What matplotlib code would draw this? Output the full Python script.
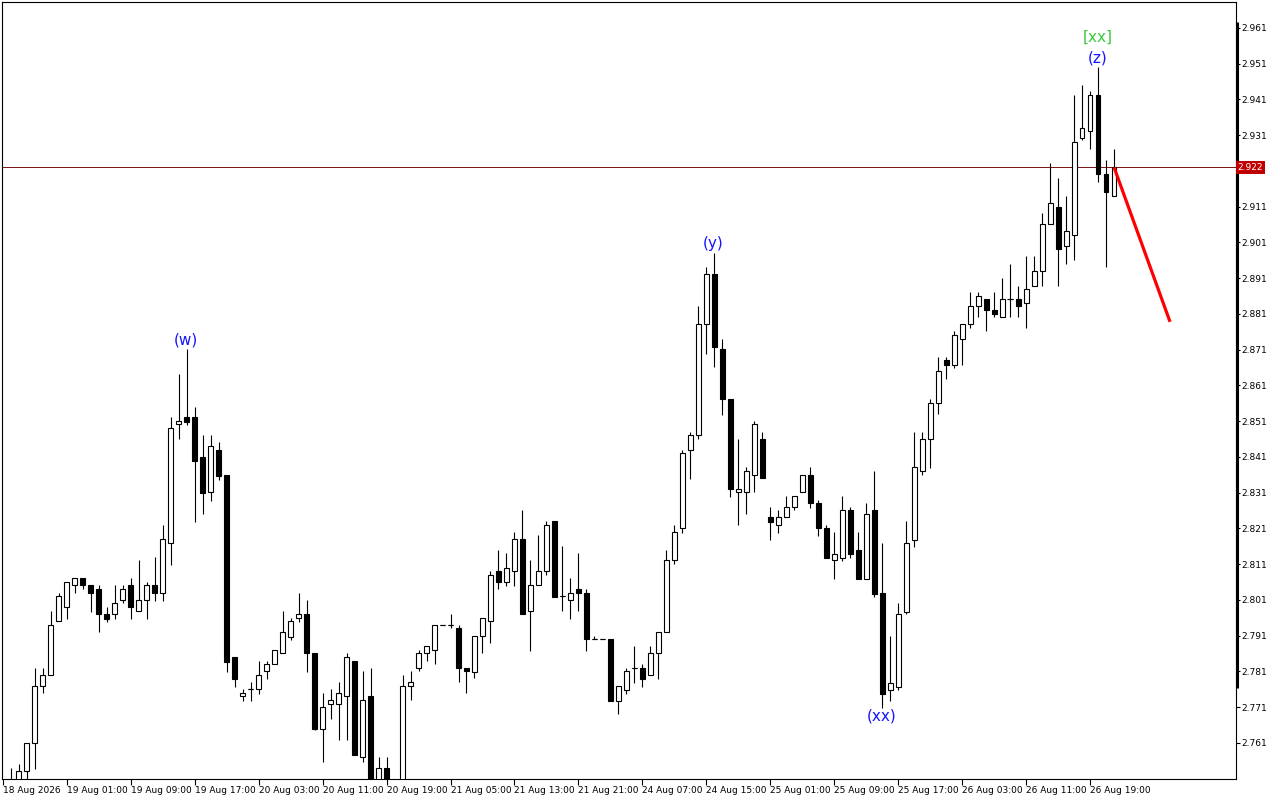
import numpy as np
import matplotlib
matplotlib.use("Agg")
import matplotlib.pyplot as plt
import matplotlib.transforms as mtransforms

# hourly candles (price)
opens = [
    2.7470, 2.7480, 2.7490, 2.7532, 2.7610, 2.7769, 2.7800, 2.7951, 2.7990, 2.8052,
    2.8072, 2.8052, 2.8041, 2.7971, 2.7971, 2.8010, 2.8052, 2.7979, 2.8010, 2.8052,
    2.8030, 2.8169, 2.8502, 2.8522, 2.8522, 2.8410, 2.8312, 2.8430, 2.8360, 2.7851,
    2.7741, 2.7761, 2.7761, 2.7811, 2.7831, 2.7862, 2.7906, 2.7959, 2.7971, 2.7862,
    2.7649, 2.7719, 2.7719, 2.7741, 2.7839, 2.7571, 2.7741, 2.7490, 2.7540, 2.7470,
    2.7490, 2.7769, 2.7820, 2.7862, 2.7870, 2.7940, 2.7940, 2.7932, 2.7820, 2.7809,
    2.7909, 2.7951, 2.8091, 2.8060, 2.8091, 2.8181, 2.7979, 2.8052, 2.8091, 2.8231,
    2.8021, 2.8010, 2.8041, 2.8030, 2.7901, 2.7901, 2.7901, 2.7728, 2.7758, 2.7820,
    2.7820, 2.7800, 2.7862, 2.7921, 2.8122, 2.8211, 2.8430, 2.8472, 2.8782, 2.8922,
    2.8712, 2.8572, 2.8312, 2.8312, 2.8360, 2.8460, 2.8242, 2.8220, 2.8242, 2.8270,
    2.8312, 2.8360, 2.8281, 2.8211, 2.8122, 2.8128, 2.8262, 2.8150, 2.8069, 2.8262,
    2.8030, 2.7758, 2.7767, 2.7976, 2.8178, 2.8371, 2.8460, 2.8561, 2.8681, 2.8667,
    2.8740, 2.8782, 2.8832, 2.8852, 2.8821, 2.8802, 2.8852, 2.8852, 2.8841, 2.8888,
    2.8930, 2.9062, 2.9109, 2.9000, 2.9031, 2.9302, 2.9322, 2.9423, 2.9202, 2.9140,
]
highs = [
    2.7505, 2.7540, 2.7551, 2.7610, 2.7820, 2.7820, 2.7979, 2.8030, 2.8060, 2.8072,
    2.8072, 2.8052, 2.8052, 2.7990, 2.8052, 2.8052, 2.8072, 2.8122, 2.8060, 2.8130,
    2.8220, 2.8522, 2.8642, 2.8712, 2.8550, 2.8472, 2.8472, 2.8452, 2.8360, 2.7851,
    2.7761, 2.7781, 2.7839, 2.7839, 2.7870, 2.7979, 2.7959, 2.8030, 2.8010, 2.7862,
    2.7750, 2.7761, 2.7781, 2.7862, 2.7839, 2.7811, 2.7820, 2.7571, 2.7571, 2.7500,
    2.7800, 2.7811, 2.7870, 2.7881, 2.7940, 2.7940, 2.7971, 2.7940, 2.7820, 2.7909,
    2.7959, 2.8091, 2.8150, 2.8141, 2.8200, 2.8262, 2.8122, 2.8192, 2.8231, 2.8231,
    2.8161, 2.8072, 2.8141, 2.8041, 2.7909, 2.7901, 2.7901, 2.7769, 2.7820, 2.7881,
    2.7831, 2.7881, 2.7921, 2.8150, 2.8220, 2.8430, 2.8480, 2.8832, 2.8941, 2.8981,
    2.8740, 2.8572, 2.8460, 2.8382, 2.8511, 2.8480, 2.8270, 2.8262, 2.8301, 2.8301,
    2.8360, 2.8382, 2.8290, 2.8220, 2.8200, 2.8301, 2.8270, 2.8200, 2.8281, 2.8371,
    2.8169, 2.7909, 2.8002, 2.8231, 2.8480, 2.8480, 2.8572, 2.8690, 2.8690, 2.8762,
    2.8782, 2.8872, 2.8872, 2.8852, 2.8872, 2.8911, 2.8950, 2.8888, 2.8972, 2.8972,
    2.9093, 2.9232, 2.9190, 2.9140, 2.9423, 2.9451, 2.9434, 2.9501, 2.9241, 2.9272,
]
lows = [
    2.7440, 2.7460, 2.7470, 2.7500, 2.7537, 2.7750, 2.7800, 2.7951, 2.7957, 2.8030,
    2.8041, 2.7976, 2.7921, 2.7948, 2.7957, 2.8002, 2.7957, 2.7979, 2.7957, 2.8007,
    2.8007, 2.8108, 2.8460, 2.8500, 2.8228, 2.8251, 2.8287, 2.8346, 2.7809, 2.7767,
    2.7728, 2.7728, 2.7748, 2.7789, 2.7831, 2.7862, 2.7898, 2.7948, 2.7809, 2.7646,
    2.7557, 2.7677, 2.7618, 2.7618, 2.7576, 2.7557, 2.7460, 2.7470, 2.7480, 2.7440,
    2.7470, 2.7730, 2.7811, 2.7839, 2.7831, 2.7940, 2.7932, 2.7781, 2.7750, 2.7792,
    2.7862, 2.7890, 2.8041, 2.8049, 2.8049, 2.7971, 2.7867, 2.8052, 2.8080, 2.8018,
    2.7979, 2.7957, 2.7979, 2.7867, 2.7901, 2.7901, 2.7728, 2.7691, 2.7748, 2.7778,
    2.7767, 2.7800, 2.7789, 2.7921, 2.8111, 2.8197, 2.8348, 2.8460, 2.8698, 2.8662,
    2.8527, 2.8298, 2.8220, 2.8251, 2.8312, 2.8351, 2.8178, 2.8197, 2.8242, 2.8262,
    2.8312, 2.8267, 2.8189, 2.8128, 2.8069, 2.8119, 2.8128, 2.8069, 2.8069, 2.8018,
    2.7708, 2.7728, 2.7758, 2.7971, 2.8158, 2.8360, 2.8379, 2.8530, 2.8628, 2.8659,
    2.8667, 2.8771, 2.8802, 2.8762, 2.8802, 2.8802, 2.8802, 2.8802, 2.8771, 2.8888,
    2.8888, 2.9062, 2.8888, 2.8950, 2.8961, 2.9297, 2.9272, 2.9179, 2.8941, 2.9140,
]
closes = [
    2.7490, 2.7500, 2.7532, 2.7610, 2.7769, 2.7800, 2.7940, 2.8021, 2.8060, 2.8072,
    2.8052, 2.8030, 2.7971, 2.7957, 2.8002, 2.8041, 2.7990, 2.8010, 2.8052, 2.8030,
    2.8181, 2.8491, 2.8511, 2.8508, 2.8399, 2.8309, 2.8441, 2.8357, 2.7837, 2.7789,
    2.7750, 2.7761, 2.7800, 2.7831, 2.7870, 2.7921, 2.7951, 2.7971, 2.7862, 2.7649,
    2.7711, 2.7730, 2.7750, 2.7851, 2.7576, 2.7730, 2.7480, 2.7540, 2.7495, 2.7485,
    2.7769, 2.7781, 2.7862, 2.7881, 2.7940, 2.7940, 2.7940, 2.7820, 2.7811, 2.7909,
    2.7959, 2.8080, 2.8060, 2.8099, 2.8181, 2.7971, 2.8052, 2.8091, 2.8220, 2.8018,
    2.8021, 2.8030, 2.8030, 2.7901, 2.7901, 2.7901, 2.7728, 2.7769, 2.7811, 2.7820,
    2.7789, 2.7862, 2.7921, 2.8122, 2.8200, 2.8421, 2.8472, 2.8782, 2.8922, 2.8718,
    2.8572, 2.8320, 2.8320, 2.8371, 2.8502, 2.8351, 2.8228, 2.8242, 2.8270, 2.8301,
    2.8360, 2.8281, 2.8211, 2.8128, 2.8139, 2.8262, 2.8139, 2.8069, 2.8251, 2.8027,
    2.7748, 2.7778, 2.7971, 2.8169, 2.8382, 2.8460, 2.8561, 2.8651, 2.8667, 2.8751,
    2.8782, 2.8832, 2.8860, 2.8821, 2.8810, 2.8852, 2.8852, 2.8832, 2.8880, 2.8930,
    2.9062, 2.9121, 2.8992, 2.9042, 2.9291, 2.9330, 2.9423, 2.9202, 2.9151, 2.9220,
]

date_labels = [
    "18 Aug 2026", "19 Aug 01:00", "19 Aug 09:00", "19 Aug 17:00", "20 Aug 03:00",
    "20 Aug 11:00", "20 Aug 19:00", "21 Aug 05:00", "21 Aug 13:00", "21 Aug 21:00",
    "24 Aug 07:00", "24 Aug 15:00", "25 Aug 01:00", "25 Aug 09:00", "25 Aug 17:00",
    "26 Aug 03:00", "26 Aug 11:00", "26 Aug 19:00",
]
price_ticks = [2.761, 2.771, 2.781, 2.791, 2.801, 2.811, 2.821, 2.831, 2.841, 2.851,
               2.861, 2.871, 2.881, 2.891, 2.901, 2.911, 2.921, 2.931, 2.941, 2.951, 2.961]
last_price = 2.922
# price range marked by the thick bar on the right-hand scale
scale_bar = [2.7764, 2.9627]

# wave labels: (text, bar index, price, colour)
wave_labels = [
    ("(w)", 22.9, 2.8737, "#1414FF"),
    ("(y)", 88.9, 2.9006, "#1414FF"),
    ("(xx)", 109.9, 2.7686, "#1414FF"),
    ("(z)", 137.0, 2.9526, "#1414FF"),
    ("[xx]", 137.0, 2.9585, "#3CC83C"),
]
# forecast line: from last close towards target
forecast_x = [139, 146]
forecast_y = [2.9220, 2.8788]

fig = plt.figure(figsize=(12.8, 8), dpi=100)
ax = fig.add_axes([2 / 1280, 21 / 800, 1234 / 1280, 777 / 800])

o = np.array(opens)
h = np.array(highs)
l = np.array(lows)
c = np.array(closes)
idx = np.arange(len(o))
up = c >= o

ax.vlines(idx, l, h, color="black", linewidth=0.8, zorder=2)
body_lo = np.minimum(o, c)
body_h = np.abs(c - o)
ax.bar(idx[up], body_h[up], bottom=body_lo[up], width=0.6, facecolor="white",
       edgecolor="black", linewidth=0.8, zorder=3)
ax.bar(idx[~up], body_h[~up], bottom=body_lo[~up], width=0.6, facecolor="black",
       edgecolor="black", linewidth=0.8, zorder=3)
doji = body_h < 0.00005
ax.hlines(c[doji], idx[doji] - 0.35, idx[doji] + 0.35, color="black", linewidth=0.8, zorder=3)

# current price line and its label on the scale
ax.axhline(last_price, color="#7A1010", linewidth=0.7, zorder=1)
trans = mtransforms.blended_transform_factory(ax.transAxes, ax.transData)
ax.text(1.0015, last_price, f"{last_price:.3f}", transform=trans, fontsize=6.5,
        color="white", va="center", ha="left", zorder=6, clip_on=False,
        bbox=dict(boxstyle="square,pad=0.2", facecolor="#C00000", edgecolor="none"))

# thick bar on the price scale
ax.plot([1.0005, 1.0005], scale_bar, transform=trans, color="black", linewidth=2.2,
        clip_on=False, zorder=5, solid_capstyle="butt")

ax.plot(forecast_x, forecast_y, color="#FF0000", linewidth=2.3, zorder=4,
        solid_capstyle="butt")

for txt, xi, yi, col in wave_labels:
    ax.text(xi, yi, txt, color=col, fontsize=11, ha="center", va="center", zorder=5)

ax.set_xlim(-0.1, 154.25)
ax.set_ylim(2.75093, 2.96827)

ax.set_xticks(np.arange(0, 8 * len(date_labels), 8))
ax.set_xticklabels(date_labels, fontsize=6.5, ha="left")
ax.tick_params(axis="x", direction="out", length=4, width=0.8, pad=1)

ax.yaxis.tick_right()
ax.set_yticks(price_ticks)
# the 2.921 label sits under the current-price box
ax.set_yticklabels(["" if abs(p - 2.921) < 1e-6 else f"{p:.3f}" for p in price_ticks],
                   fontsize=6.5)
ax.tick_params(axis="y", direction="out", length=3, width=0.8, pad=1)

for sp in ax.spines.values():
    sp.set_linewidth(0.8)
    sp.set_color("black")

fig.savefig("out.png", dpi=100, facecolor="white")
